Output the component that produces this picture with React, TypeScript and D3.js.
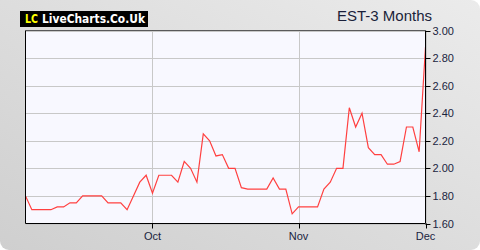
import React from "react";
import * as d3 from "d3";

const values: number[] = [
  1.8, 1.7, 1.7, 1.7, 1.7, 1.72, 1.72, 1.75, 1.75, 1.8,
  1.8, 1.8, 1.8, 1.75, 1.75, 1.75, 1.7, 1.8, 1.9, 1.95,
  1.82, 1.95, 1.95, 1.95, 1.9, 2.05, 2.0, 1.9, 2.25, 2.2,
  2.09, 2.1, 2.0, 2.0, 1.86, 1.85, 1.85, 1.85, 1.85, 1.93,
  1.85, 1.85, 1.67, 1.72, 1.72, 1.72, 1.72, 1.85, 1.9, 2.0,
  2.0, 2.44, 2.3, 2.4, 2.15, 2.1, 2.1, 2.03, 2.03, 2.05,
  2.3, 2.3, 2.12, 2.88,
];
const monthLabels: string[] = ["Oct", "Nov", "Dec"];
const monthIndex: number[] = [20, 43, 63];
const yTicks: number[] = [1.6, 1.8, 2.0, 2.2, 2.4, 2.6, 2.8, 3.0];
const title = "EST-3 Months";

const W = 480;
const H = 250;
const L = 25.5;
const R = 425.5;
const T = 30.5;
const B = 223.5;

export default function App() {
  const x = d3.scaleLinear().domain([0, values.length - 1]).range([L, R]);
  const y = d3.scaleLinear().domain([1.6, 3.0]).range([B, T]);
  const line = d3
    .line<number>()
    .x((_, i) => x(i))
    .y((d) => y(d));
  const r = 9;
  const bgPath = `M0,0 H${W - r} A${r},${r} 0 0 1 ${W},${r} V${H - r} A${r},${r} 0 0 1 ${W - r},${H} H${r} A${r},${r} 0 0 1 0,${H - r} Z`;
  const font = "'Liberation Sans', Arial, sans-serif";
  const logoFont = "'DejaVu Sans', Verdana, sans-serif";
  return (
    <svg
      width={W}
      height={H}
      style={{ position: "absolute", left: 0, top: 0, display: "block" }}
    >
      <defs>
        <linearGradient id="bg" x1="0" y1="1" x2="1" y2="0">
          <stop offset="0" stopColor="#cfcfcf" />
          <stop offset="1" stopColor="#ebebeb" />
        </linearGradient>
        <clipPath id="plotclip">
          <rect x={L} y={T - 1} width={R - L} height={B - T + 1} />
        </clipPath>
      </defs>
      <rect x={0} y={0} width={W} height={H} fill="#ffffff" />
      <path d={bgPath} fill="url(#bg)" />
      <rect x={L} y={T} width={R - L} height={B - T} fill="#f8f8ff" />
      {yTicks.map((t) => (
        <line
          key={"g" + t}
          x1={L}
          x2={R}
          y1={Math.round(y(t)) + 0.5}
          y2={Math.round(y(t)) + 0.5}
          stroke="#c8c8c8"
        />
      ))}
      {monthIndex.map((m) => (
        <line
          key={"v" + m}
          x1={Math.round(x(m)) + 0.5}
          x2={Math.round(x(m)) + 0.5}
          y1={T}
          y2={B}
          stroke="#c8c8c8"
        />
      ))}
      <path
        d={line(values) || ""}
        fill="none"
        stroke="#ff4040"
        strokeWidth={1.2}
        clipPath="url(#plotclip)"
      />
      <line x1={L} x2={L} y1={T} y2={B} stroke="#000" />
      <line x1={L} x2={R} y1={B} y2={B} stroke="#000" />
      <line x1={R} x2={R} y1={T} y2={B} stroke="#000" />
      <line x1={L} x2={R} y1={T} y2={T} stroke="#333" strokeWidth={0.8} />
      {yTicks.map((t) => (
        <g key={"y" + t}>
          <line
            x1={R}
            x2={R + 5}
            y1={Math.round(y(t)) + 0.5}
            y2={Math.round(y(t)) + 0.5}
            stroke="#000"
          />
          <text
            x={R + 7}
            y={y(t) + 4}
            fontSize={11}
            fontFamily={font}
            fill="#1a2440"
          >
            {t.toFixed(2)}
          </text>
        </g>
      ))}
      {monthIndex.map((m, i) => (
        <g key={"x" + m}>
          <line
            x1={Math.round(x(m)) + 0.5}
            x2={Math.round(x(m)) + 0.5}
            y1={B}
            y2={B + 5}
            stroke="#000"
          />
          <text
            x={x(m)}
            y={240}
            fontSize={11}
            fontFamily={font}
            fill="#1a2440"
            textAnchor="middle"
          >
            {monthLabels[i]}
          </text>
        </g>
      ))}
      <rect x={20} y={11} width={128} height={16} fill="#000" />
      <text
        x={25}
        y={23}
        fontSize={11.5}
        fontWeight="bold"
        fontFamily={logoFont}
        fill="#ffff00"
        textLength={13}
        lengthAdjust="spacingAndGlyphs"
      >
        LC
      </text>
      <text
        x={42}
        y={23}
        fontSize={11.5}
        fontWeight="bold"
        fontFamily={logoFont}
        fill="#ffffff"
        textLength={103}
        lengthAdjust="spacingAndGlyphs"
      >
        LiveCharts.Co.Uk
      </text>
      <text
        x={432}
        y={21}
        fontSize={15}
        fontFamily={font}
        fill="#1a1f3a"
        textAnchor="end"
      >
        {title}
      </text>
    </svg>
  );
}
